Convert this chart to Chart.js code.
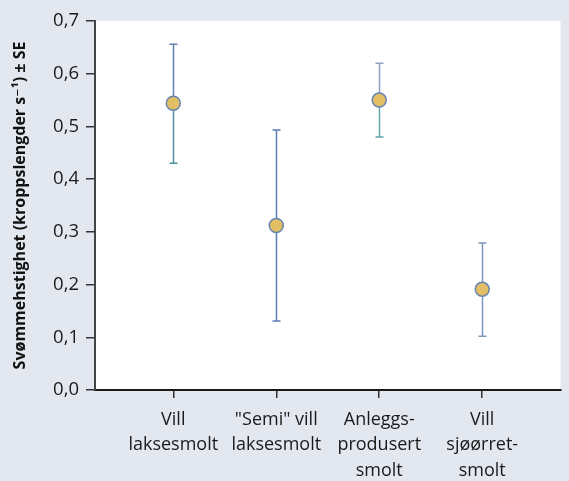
<!DOCTYPE html>
<html>
<head>
<meta charset="utf-8">
<script src="https://cdn.jsdelivr.net/npm/chart.js@4"></script>
<style>
  html, body { margin: 0; padding: 0; background: #e3e7f0; }
  #wrap { width: 569px; height: 481px; position: relative; }
</style>
</head>
<body>
<div id="wrap"><canvas id="c" width="569" height="481"></canvas></div>
<script>
// Smolt groups (x positions 1..4) and their labels
const categories = [
  ['Vill', 'laksesmolt'],
  ['"Semi" vill', 'laksesmolt'],
  ['Anleggs-', 'produsert', 'smolt'],
  ['Vill', 'sjøørret-', 'smolt']
];
// Mean swimming speed (body lengths per second) with ± SE bounds
const means = [0.544, 0.312, 0.550, 0.191];
const upperSE = [0.656, 0.493, 0.620, 0.279];
const lowerSE = [0.430, 0.131, 0.480, 0.102];
const yTicks = [0, 0.1, 0.2, 0.3, 0.4, 0.5, 0.6, 0.7];

// Whisker colours (upper part, lower part)
const upperColors = ['#5f7fb0', '#5c7db4', '#8b9fc2', '#7f97ba'];
const lowerColors = ['#4b939e', '#5c7db4', '#5fa6ad', '#7f97ba'];

const points = means.map((v, i) => ({ x: i + 1, y: v }));

const plotBackground = {
  id: 'plotBackground',
  beforeDraw(chart) {
    const { ctx, chartArea: a } = chart;
    ctx.save();
    ctx.fillStyle = '#ffffff';
    ctx.fillRect(a.left, a.top, a.right - a.left, a.bottom - a.top);
    ctx.restore();
  }
};

const errorBars = {
  id: 'errorBars',
  beforeDatasetsDraw(chart) {
    const { ctx, scales: { x, y } } = chart;
    ctx.save();
    ctx.lineWidth = 1.5;
    means.forEach((m, i) => {
      const px = Math.round(x.getPixelForValue(i + 1)) + 0.5;
      const pm = y.getPixelForValue(m);
      const pu = y.getPixelForValue(upperSE[i]);
      const pl = y.getPixelForValue(lowerSE[i]);
      const cap = 4;
      ctx.strokeStyle = upperColors[i];
      ctx.beginPath();
      ctx.moveTo(px, pm); ctx.lineTo(px, pu);
      ctx.moveTo(px - cap, pu); ctx.lineTo(px + cap, pu);
      ctx.stroke();
      ctx.strokeStyle = lowerColors[i];
      ctx.beginPath();
      ctx.moveTo(px, pm); ctx.lineTo(px, pl);
      ctx.moveTo(px - cap, pl); ctx.lineTo(px + cap, pl);
      ctx.stroke();
    });
    ctx.restore();
  }
};

const fontFamily = '"Open Sans", "DejaVu Sans", sans-serif';

new Chart(document.getElementById('c'), {
  type: 'scatter',
  data: {
    datasets: [{
      data: points,
      pointRadius: 7,
      pointHoverRadius: 7,
      pointBackgroundColor: '#e2be64',
      pointBorderColor: '#6784b0',
      pointBorderWidth: 1.5
    }]
  },
  options: {
    responsive: false,
    animation: false,
    events: [],
    layout: { padding: { top: 21, right: 0, bottom: 0, left: 0 } },
    plugins: { legend: { display: false }, tooltip: { enabled: false } },
    scales: {
      x: {
        type: 'linear',
        min: 0.24,
        max: 4.76,
        afterBuildTicks(scale) {
          scale.ticks = categories.map((_, i) => ({ value: i + 1 }));
        },
        afterFit(scale) { scale.height = 91; },
        ticks: {
          autoSkip: false,
          maxRotation: 0,
          padding: 9,
          color: '#1a1a1a',
          font: { family: fontFamily, size: 18, lineHeight: 1.42 },
          callback: (v) => categories[Math.round(v) - 1]
        },
        grid: { drawOnChartArea: false, drawTicks: true, tickLength: 8, color: '#333333', lineWidth: 1.5 },
        border: { display: true, color: '#1a1a1a', width: 2 }
      },
      y: {
        min: 0,
        max: 0.7,
        afterBuildTicks(scale) {
          scale.ticks = yTicks.map(v => ({ value: v }));
        },
        afterFit(scale) { scale.width = 95; },
        ticks: {
          padding: 7,
          color: '#1a1a1a',
          font: { family: fontFamily, size: 18.5 },
          callback: (v) => v.toFixed(1).replace('.', ',')
        },
        grid: { drawOnChartArea: false, drawTicks: true, tickLength: 9, color: '#333333', lineWidth: 1.5 },
        border: { display: true, color: '#444444', width: 2 },
        title: {
          display: true,
          text: 'Svømmehstighet (kroppslengder s⁻¹) ± SE',
          color: '#111111',
          font: { family: fontFamily, size: 16, weight: 'bold' },
          padding: { top: 11, bottom: 0 }
        }
      }
    }
  },
  plugins: [plotBackground, errorBars]
});
</script>
</body>
</html>
